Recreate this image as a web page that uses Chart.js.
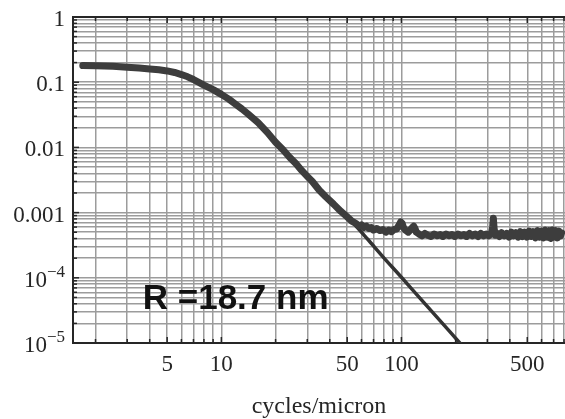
<!DOCTYPE html>
<html>
<head>
<meta charset="utf-8">
<script src="https://cdn.jsdelivr.net/npm/chart.js@4.4.0/dist/chart.umd.min.js"></script>
<style>
  html, body { margin: 0; padding: 0; background: #fff; }
</style>
</head>
<body>
<canvas id="psd" width="565" height="419"></canvas>
<script>
// --- data ---
const dataFreq = [1.7, 2.0, 2.5, 3.0, 3.5, 4.0, 4.5, 5.0, 5.5, 6.0, 6.5, 7.0, 8.0, 9.0, 10, 11, 12, 13, 14, 16, 18, 20, 22, 24, 26, 28, 30, 32, 35, 38, 42, 46, 50,
  53, 56, 58, 60, 62, 64, 66, 68, 70, 73, 76, 79, 82, 85, 88, 91, 94, 97, 99, 101, 103, 106, 109, 112, 115, 117, 119, 121,
  125, 130, 135, 140, 146, 152, 158, 164, 170, 177, 184, 191, 198, 206, 214, 222, 230, 239, 248, 257, 266, 276, 286, 296, 306, 316, 321, 324, 327, 332,
  340, 350, 360, 372, 384, 396, 408, 420, 432, 445, 458, 471, 484, 498, 512, 526, 540, 555, 570, 585, 600, 615, 630, 645, 660, 675, 690, 705, 720, 735, 750, 765, 775];
const dataPsd = [0.180, 0.178, 0.175, 0.170, 0.165, 0.160, 0.155, 0.149, 0.141, 0.131, 0.121, 0.110, 0.090, 0.077, 0.065, 0.055, 0.046, 0.039, 0.033, 0.024, 0.0170, 0.0120, 0.0092, 0.0070, 0.0056, 0.0044, 0.0036, 0.0030, 0.0022, 0.00175, 0.00135, 0.00105, 0.00086,
  0.00074, 0.00068, 0.00062, 0.00065, 0.00059, 0.00062, 0.00057, 0.00059, 0.00054, 0.00057, 0.00053, 0.00055, 0.00050, 0.00054, 0.00051, 0.00055, 0.00056, 0.00064, 0.00072, 0.00068, 0.00058, 0.00053, 0.00050, 0.00054, 0.00059, 0.00062, 0.00057, 0.00050,
  0.00047, 0.00044, 0.00048, 0.00045, 0.00043, 0.00047, 0.00044, 0.00046, 0.00043, 0.00047, 0.00044, 0.00046, 0.00043, 0.00047, 0.00044, 0.00046, 0.00043, 0.00048, 0.00044, 0.00047, 0.00043, 0.00048, 0.00044, 0.00047, 0.00044, 0.00048, 0.00060, 0.00082, 0.00058, 0.00045,
  0.00048, 0.00043, 0.00049, 0.00044, 0.00048, 0.00042, 0.00050, 0.00044, 0.00049, 0.00042, 0.00051, 0.00043, 0.00050, 0.00042, 0.00052, 0.00043, 0.00051, 0.00041, 0.00053, 0.00042, 0.00052, 0.00041, 0.00054, 0.00042, 0.00053, 0.00040, 0.00054, 0.00042, 0.00053, 0.00041, 0.00052, 0.00044, 0.00049];

const modelFreq = [1.7, 3, 5, 7, 10, 14, 20, 28, 35, 45, 53, 65, 79, 100, 130, 170, 211, 240];
const modelPsd = [0.180, 0.170, 0.149, 0.110, 0.065, 0.033, 0.0120, 0.0043, 0.0022, 0.00112, 0.00073, 0.00039, 0.00021, 0.000102, 0.000045, 0.0000197, 0.00001, 0.0000067];

// grid / tick values
const xGrid = [2, 3, 4, 5, 6, 7, 8, 9, 10, 20, 30, 40, 50, 60, 70, 80, 90, 100, 200, 300, 400, 500, 600, 700, 800];
const xLabelValues = [5, 10, 50, 100, 500];
const yDecades = [1e-5, 1e-4, 1e-3, 1e-2, 1e-1];
const yLabelValues = [1, 0.1, 0.01, 0.001];
const yPowerLabels = [[1e-4, '\u22124'], [1e-5, '\u22125']];
const xTitle = 'cycles/micron';
const note = 'R =18.7 nm';
const notePos = [3.66, 4.6e-5];

const yGrid = [];
yDecades.forEach(d => { for (let m = 1; m <= 9; m++) yGrid.push(m * d); });
yGrid.push(1);

const same = (a, b) => Math.abs(Math.log10(a) - Math.log10(b)) < 1e-6;
const ink = '#262626';
const serif = '"Liberation Serif", "Times New Roman", serif';

const decorations = {
  id: 'decorations',
  afterDraw(chart) {
    const { ctx, chartArea: a, scales: { x, y } } = chart;
    ctx.save();
    // frame top line
    ctx.strokeStyle = ink;
    ctx.lineWidth = 2;
    ctx.beginPath();
    ctx.moveTo(a.left, a.top);
    ctx.lineTo(a.right, a.top);
    ctx.stroke();
    // little inside ticks
    ctx.lineWidth = 1.5;
    xGrid.forEach(v => {
      const px = x.getPixelForValue(v);
      const len = xLabelValues.some(l => same(l, v)) ? 6 : 4;
      ctx.beginPath();
      ctx.moveTo(px, a.bottom); ctx.lineTo(px, a.bottom - len);
      ctx.moveTo(px, a.top); ctx.lineTo(px, a.top + len);
      ctx.stroke();
    });
    yGrid.forEach(v => {
      const py = y.getPixelForValue(v);
      const len = yDecades.some(l => same(l, v)) ? 6 : 4;
      ctx.beginPath();
      ctx.moveTo(a.left, py); ctx.lineTo(a.left + len, py);
      ctx.stroke();
    });
    // 10^-4, 10^-5 labels
    ctx.fillStyle = ink;
    ctx.textBaseline = 'middle';
    yPowerLabels.forEach(([v, exp]) => {
      const py = y.getPixelForValue(v);
      ctx.font = '23px ' + serif;
      ctx.textAlign = 'right';
      ctx.fillText('10', 47, py + 3);
      ctx.font = '17px ' + serif;
      ctx.textAlign = 'left';
      ctx.fillText(exp, 47, py - 5);
    });
    // annotation
    ctx.font = 'bold 35px "Liberation Sans", Arial, sans-serif';
    ctx.fillStyle = '#111';
    ctx.textAlign = 'left';
    ctx.fillText(note, x.getPixelForValue(notePos[0]), y.getPixelForValue(notePos[1]));
    ctx.restore();
  }
};

new Chart(document.getElementById('psd'), {
  type: 'line',
  data: {
    datasets: [
      {
        label: 'model',
        data: modelFreq.map((f, i) => ({ x: f, y: modelPsd[i] })),
        borderColor: '#333',
        borderWidth: 3.5,
        pointRadius: 0,
        pointHoverRadius: 0,
        tension: 0.3,
        order: 2
      },
      {
        label: 'measured',
        data: dataFreq.map((f, i) => ({ x: f, y: dataPsd[i] })),
        borderColor: '#3d3d3d',
        borderWidth: 7,
        pointRadius: 0,
        pointHoverRadius: 0,
        tension: 0,
        borderJoinStyle: 'round',
        borderCapStyle: 'round',
        order: 1
      }
    ]
  },
  options: {
    responsive: false,
    animation: false,
    devicePixelRatio: 1,
    layout: { autoPadding: false, padding: { top: 17, left: 0, right: 0, bottom: 0 } },
    plugins: { legend: { display: false }, tooltip: { enabled: false } },
    scales: {
      x: {
        type: 'logarithmic',
        min: 1.5,
        max: 810,
        afterBuildTicks: s => { s.ticks = xGrid.map(v => ({ value: v })); },
        afterFit: s => { s.height = 76; },
        grid: { color: '#9c9c9c', lineWidth: 1.5, drawTicks: true, tickLength: 8, tickColor: 'rgba(0,0,0,0)' },
        border: { color: ink, width: 2 },
        ticks: {
          autoSkip: false,
          maxRotation: 0,
          padding: 0,
          color: ink,
          font: { family: serif, size: 23 },
          callback: v => (xLabelValues.some(l => same(l, v)) ? String(v) : '')
        },
        title: {
          display: true,
          text: xTitle,
          color: ink,
          font: { family: serif, size: 24, lineHeight: 1 },
          padding: { top: 0, bottom: 0 }
        }
      },
      y: {
        type: 'logarithmic',
        min: 1e-5,
        max: 1,
        afterBuildTicks: s => { s.ticks = yGrid.map(v => ({ value: v })); },
        afterFit: s => { s.width = 73; },
        grid: { color: '#9c9c9c', lineWidth: 1.5, drawTicks: true, tickLength: 8, tickColor: 'rgba(0,0,0,0)' },
        border: { color: ink, width: 2 },
        ticks: {
          autoSkip: false,
          padding: 0,
          labelOffset: 3,
          color: ink,
          font: { family: serif, size: 23 },
          callback: v => {
            const hit = yLabelValues.find(l => same(l, v));
            return hit !== undefined ? String(hit) : '';
          }
        }
      }
    }
  },
  plugins: [decorations]
});
</script>
</body>
</html>
